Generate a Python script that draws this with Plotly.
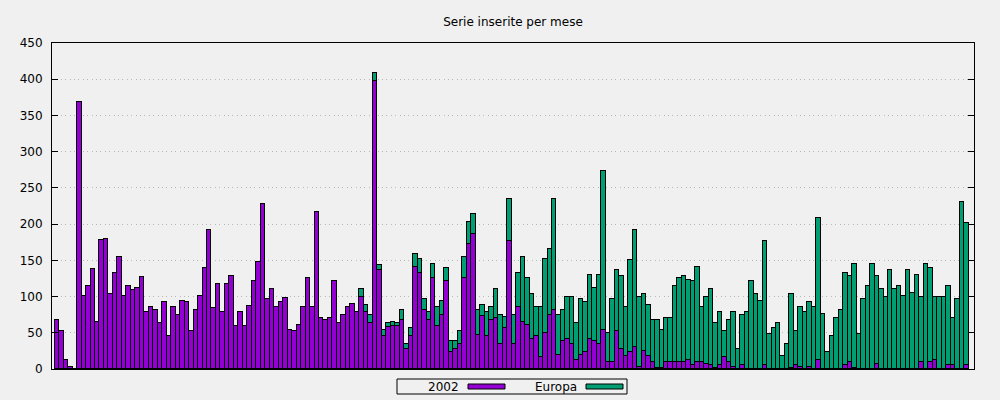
import plotly.graph_objects as go

# monthly counts (one bar per month)
serie_2002 = [
    68, 53, 13, 3, 0, 368, 101, 115, 138, 65, 178, 180, 104, 133, 154, 101, 115, 109, 112, 127,
    78, 85, 81, 64, 92, 46, 86, 74, 94, 92, 52, 81, 101, 140, 192, 84, 118, 79, 118, 129,
    60, 79, 60, 87, 122, 148, 228, 97, 111, 86, 93, 98, 54, 53, 61, 86, 126, 86, 217, 71,
    68, 71, 122, 64, 75, 86, 90, 79, 100, 78, 63, 398, 137, 46, 58, 60, 60, 67, 28, 46,
    141, 133, 82, 68, 125, 60, 75, 122, 24, 28, 35, 125, 173, 187, 47, 73, 46, 68, 71, 35,
    56, 177, 35, 85, 65, 61, 41, 46, 16, 50, 74, 82, 20, 39, 42, 34, 13, 20, 23, 42,
    39, 35, 54, 10, 10, 52, 27, 18, 24, 31, 3, 25, 18, 10, 2, 2, 10, 9, 9, 10,
    10, 13, 6, 10, 9, 7, 6, 2, 5, 16, 10, 3, 0, 6, 0, 0, 0, 0, 6, 0,
    0, 0, 0, 0, 2, 6, 3, 0, 3, 0, 13, 0, 0, 0, 0, 0, 6, 9, 2, 0,
    0, 0, 0, 7, 0, 0, 0, 0, 0, 0, 0, 0, 0, 9, 0, 10, 12, 0, 0, 6,
    6, 0, 0, 5,
]
europa = [
    0, 0, 0, 0, 0, 0, 0, 0, 0, 0, 0, 0, 0, 0, 0, 0, 0, 0, 0, 0,
    0, 0, 0, 0, 0, 0, 0, 0, 0, 0, 0, 0, 0, 0, 0, 0, 0, 0, 0, 0,
    0, 0, 0, 0, 0, 0, 0, 0, 0, 0, 0, 0, 0, 0, 0, 0, 0, 0, 0, 0,
    0, 0, 0, 0, 0, 0, 0, 0, 10, 11, 11, 10, 6, 8, 6, 5, 4, 14, 7, 11,
    18, 19, 15, 10, 20, 25, 19, 17, 15, 11, 17, 30, 30, 27, 35, 16, 32, 18, 40, 40,
    16, 58, 40, 48, 90, 64, 63, 39, 69, 102, 92, 153, 54, 42, 58, 65, 51, 76, 70, 88,
    73, 95, 220, 40, 87, 85, 101, 67, 127, 161, 97, 78, 71, 58, 66, 52, 60, 62, 106, 115,
    119, 110, 115, 131, 77, 93, 105, 61, 74, 36, 58, 75, 28, 68, 78, 122, 103, 94, 171, 49,
    57, 63, 18, 34, 102, 46, 82, 79, 90, 85, 196, 76, 23, 46, 71, 82, 127, 119, 143, 49,
    97, 114, 145, 121, 111, 100, 136, 111, 115, 101, 136, 105, 130, 91, 145, 130, 88, 100, 100, 109,
    65, 96, 231, 196,
]
mesi = list(range(len(serie_2002)))
y_ticks = [0, 50, 100, 150, 200, 250, 300, 350, 400, 450]

VIOLA = "#9400d3"
VERDE = "#009e73"
FONT = dict(family="DejaVu Sans", size=12, color="black")

fig = go.Figure()
fig.add_trace(go.Bar(x=mesi, y=serie_2002, name="2002",
                     marker=dict(color=VIOLA, line=dict(color="black", width=1))))
fig.add_trace(go.Bar(x=mesi, y=europa, name="Europa",
                     marker=dict(color=VERDE, line=dict(color="black", width=1))))

fig.update_layout(
    width=1000, height=400,
    barmode="stack", bargap=0,
    paper_bgcolor="#f0f0f0", plot_bgcolor="#f0f0f0",
    margin=dict(l=52, r=26, t=43, b=31),
    font=FONT,
    showlegend=False,
    title=dict(text="Serie inserite per mese", x=0.5, xref="paper",
               y=1 - 22 / 400, yanchor="middle", font=FONT),
)
fig.update_xaxes(range=[-1.1, 204.7], showticklabels=False, ticks="",
                 showgrid=False, zeroline=False,
                 showline=True, linecolor="black", linewidth=1, mirror=True)
fig.update_yaxes(range=[0, 450], tickvals=y_ticks, ticks="inside", ticklen=6,
                 tickcolor="black", ticklabelstandoff=6,
                 showgrid=True, gridcolor="#b8b8b8", griddash="1px,3.4px", gridwidth=1,
                 zeroline=False,
                 showline=True, linecolor="black", linewidth=1, mirror="ticks")

# gnuplot-style key below the plot: label first, then the sample box
def px_x(p):
    return (p - 52) / 922

def px_y(p):
    return (369 - p) / 326

fig.add_shape(type="rect", xref="paper", yref="paper",
              x0=px_x(397), x1=px_x(627), y0=px_y(379), y1=px_y(394),
              line=dict(color="black", width=1), fillcolor="#f0f0f0")
for label, right, colore in [("2002", 461, VIOLA), ("Europa", 579, VERDE)]:
    fig.add_annotation(text=label, xref="paper", yref="paper",
                       x=px_x(right), y=px_y(387), xanchor="right", yanchor="middle",
                       showarrow=False, font=FONT)
    fig.add_shape(type="rect", xref="paper", yref="paper",
                  x0=px_x(right + 7), x1=px_x(right + 44), y0=px_y(384), y1=px_y(389),
                  line=dict(color="black", width=1), fillcolor=colore)

fig.write_html("out.html", config={"displayModeBar": False},
               post_script="document.body.style.margin='0';")
